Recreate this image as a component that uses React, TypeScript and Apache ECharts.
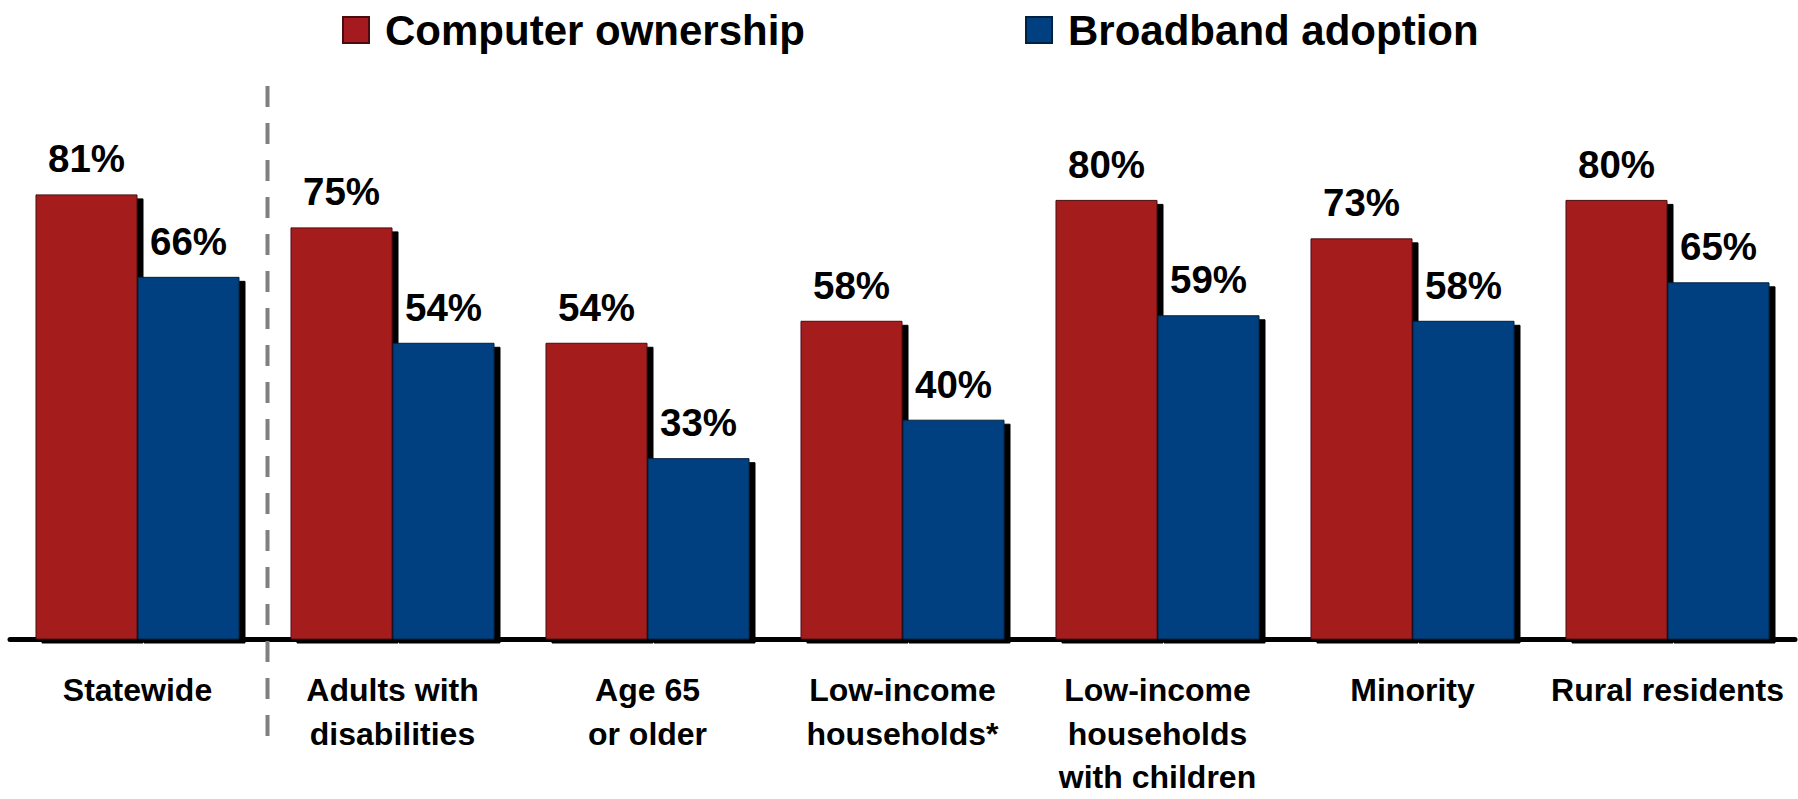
import React, { useEffect, useRef } from "react";
import * as echarts from "echarts";

const categories = [
  "Statewide",
  "Adults with\ndisabilities",
  "Age 65\nor older",
  "Low-income\nhouseholds*",
  "Low-income\nhouseholds\nwith children",
  "Minority",
  "Rural residents",
];
const computerOwnership = [81, 75, 54, 58, 80, 73, 80];
const broadbandAdoption = [66, 54, 33, 40, 59, 58, 65];
const seriesNames = ["Computer ownership", "Broadband adoption"];

const FONT = "'Liberation Sans', Arial, Helvetica, sans-serif";

export default function App() {
  const ref = useRef<HTMLDivElement>(null);
  useEffect(() => {
    if (!ref.current) return;
    const chart = echarts.init(ref.current, undefined, { renderer: "svg" });
    const labelStyle = {
      show: true,
      position: "top" as const,
      distance: 16,
      formatter: "{c}%",
      fontSize: 38.5,
      fontWeight: "bold" as const,
      color: "#000",
      fontFamily: FONT,
    };
    const shadow = {
      shadowColor: "#000",
      shadowOffsetX: 6,
      shadowOffsetY: 4,
      shadowBlur: 0,
    };
    chart.setOption({
      animation: false,
      backgroundColor: "#fff",
      legend: {
        data: seriesNames,
        left: 337,
        top: 4,
        itemWidth: 26,
        itemHeight: 26,
        itemGap: 220,
        icon: "rect",
        textStyle: {
          fontSize: 42,
          fontWeight: "bold",
          color: "#000",
          fontFamily: FONT,
          padding: [0, 0, 0, 11],
        },
      },
      grid: { left: 10, right: 3, top: 90, bottom: 148, containLabel: false },
      xAxis: {
        type: "category",
        data: categories,
        axisLine: { show: true, lineStyle: { color: "#000", width: 5 } },
        axisTick: { show: false },
        axisLabel: {
          interval: 0,
          margin: 29,
          fontSize: 32,
          fontWeight: "bold",
          color: "#000",
          lineHeight: 43.5,
          fontFamily: FONT,
        },
      },
      yAxis: {
        type: "value",
        min: 0,
        max: 100,
        show: false,
        splitLine: { show: false },
      },
      series: [
        {
          name: seriesNames[0],
          type: "bar",
          data: computerOwnership,
          barGap: "0%",
          barCategoryGap: "20%",
          itemStyle: {
            color: "#A41A1E",
            borderColor: "#4a0c0e",
            borderWidth: 1,
            ...shadow,
          },
          label: labelStyle,
        },
        {
          name: seriesNames[1],
          type: "bar",
          data: broadbandAdoption,
          barGap: "0%",
          barCategoryGap: "20%",
          itemStyle: {
            color: "#004080",
            borderColor: "#00203f",
            borderWidth: 1,
            ...shadow,
          },
          label: labelStyle,
        },
      ],
      graphic: [
        {
          type: "line",
          shape: { x1: 267.5, y1: 86, x2: 267.5, y2: 742 },
          style: { stroke: "#808080", lineWidth: 4, lineDash: [21, 16] },
          z: 10,
        },
      ],
    });
    return () => chart.dispose();
  }, []);
  return (
    <div
      ref={ref}
      style={{ position: "fixed", left: 0, top: 0, width: 1798, height: 799 }}
    />
  );
}
